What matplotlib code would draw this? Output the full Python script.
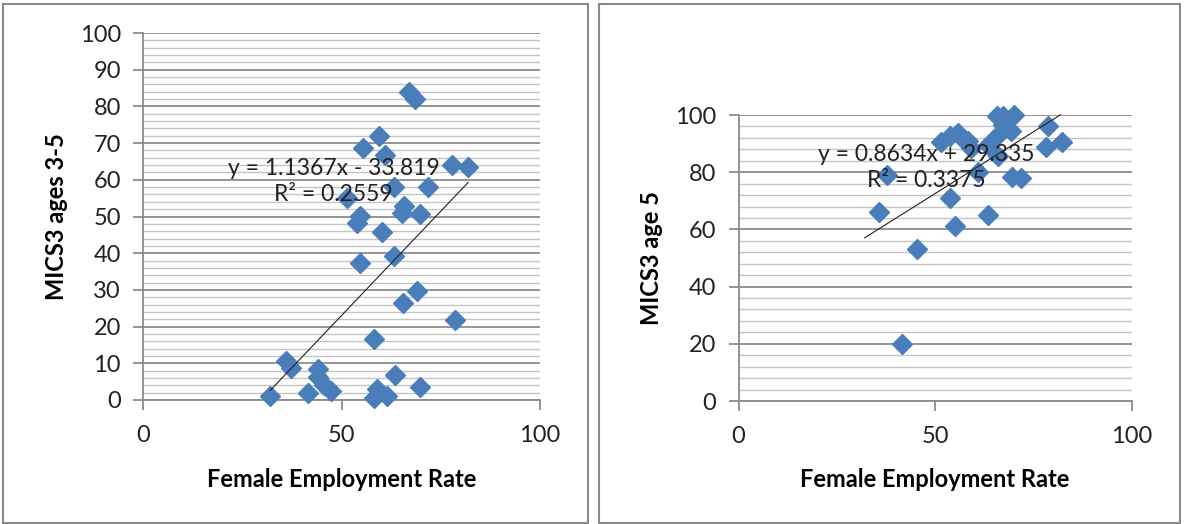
import numpy as np
import matplotlib
matplotlib.use("Agg")
import matplotlib.pyplot as plt
from matplotlib.patches import Rectangle
from matplotlib.ticker import MultipleLocator

plt.rcParams['font.family'] = ['Lato', 'DejaVu Sans']

# left panel: MICS3 ages 3-5 vs female employment rate
emp_a = [32.1, 35.9, 37.3, 41.5, 44.0, 44.1, 45.5, 47.4, 51.5, 54.7, 53.9, 54.7,
         55.4, 58.1, 58.1, 59.0, 59.5, 60.3, 60.9, 61.4, 63.2, 63.1, 63.4, 65.3,
         65.8, 65.5, 67.0, 68.5, 69.1, 69.8, 69.8, 71.7, 77.8, 78.6, 81.9]
mics_a = [1.2, 10.7, 8.7, 1.8, 8.4, 6.4, 4.1, 2.5, 55.0, 50.1, 48.1, 37.3,
          68.8, 16.6, 0.5, 2.9, 71.9, 45.8, 66.8, 1.2, 58.0, 39.2, 6.8, 51.0,
          52.8, 26.4, 84.0, 82.1, 29.6, 50.7, 3.6, 58.1, 63.9, 21.9, 63.5]
coef_a = (1.1367, -33.819)
label_a = "y = 1.1367x - 33.819\nR² = 0.2559"

# right panel: MICS3 age 5
emp_b = [35.8, 37.7, 41.5, 45.5, 51.5, 53.8, 53.8, 55.0, 55.8, 57.1, 58.5, 59.1,
         61.0, 63.4, 63.5, 65.9, 67.2, 66.1, 65.8, 67.3, 69.3, 70.2, 69.6, 71.9,
         78.2, 78.7, 82.2]
mics_b = [66.0, 79.0, 20.0, 53.0, 90.4, 92.5, 71.0, 61.3, 93.6, 91.5, 90.9, 88.6,
          80.0, 64.9, 89.5, 99.7, 99.7, 85.5, 92.5, 96.5, 94.4, 100.0, 78.2, 78.0,
          88.7, 96.2, 90.6]
coef_b = (0.8634, 29.335)
label_b = "y = 0.8634x + 29.335\nR² = 0.3375"

blue = '#4a7ebb'

fig = plt.figure(figsize=(11.84, 5.24), dpi=100)

# chart area borders
fig.patches.append(Rectangle((3 / 1184, 1 / 524), 585 / 1184, 519 / 524, transform=fig.transFigure,
                             fill=False, edgecolor='#8a8a8a', linewidth=1.5))
fig.patches.append(Rectangle((599 / 1184, 1 / 524), 581 / 1184, 519 / 524, transform=fig.transFigure,
                             fill=False, edgecolor='#8a8a8a', linewidth=1.5))


def panel(rect, x, y, coef, label, ylabel, minor_step, major_step, text_pos, xlab_y, ylab_x):
    ax = fig.add_axes(rect)
    ax.plot(x, y, linestyle='none', marker='D', markersize=10.5, color=blue,
            markeredgecolor=blue, zorder=3, clip_on=False)
    xs = np.array([min(emp_a), max(emp_a)])
    ax.plot(xs, coef[0] * xs + coef[1], color='#202020', linewidth=0.8, zorder=4, clip_on=False)
    ax.text(text_pos[0], text_pos[1], label, ha='center', va='center', fontsize=16.5,
            color='#222222', linespacing=1.3, zorder=5)
    ax.set_xlim(0, 100)
    ax.set_ylim(0, 100)
    ax.set_xticks([0, 50, 100])
    ax.yaxis.set_major_locator(MultipleLocator(major_step))
    ax.yaxis.set_minor_locator(MultipleLocator(minor_step))
    ax.grid(axis='y', which='minor', color='#c4c4c4', linewidth=1.0)
    ax.grid(axis='y', which='major', color='#8c8c8c', linewidth=1.3)
    ax.set_axisbelow(True)
    for s in ['top', 'right']:
        ax.spines[s].set_visible(False)
    for s in ['left', 'bottom']:
        ax.spines[s].set_color('#8c8c8c')
        ax.spines[s].set_linewidth(1.3)
    ax.tick_params(axis='both', which='major', length=7, width=1.3, color='#8c8c8c',
                   labelsize=17, labelcolor='#222222')
    ax.tick_params(axis='y', which='minor', length=0)
    ax.tick_params(axis='y', pad=9)
    ax.tick_params(axis='x', pad=11)
    ax.set_xlabel("Female Employment Rate", fontsize=17, fontweight='bold')
    ax.set_ylabel(ylabel, fontsize=17, fontweight='bold')
    ax.xaxis.set_label_coords(0.5, xlab_y)
    ax.yaxis.set_label_coords(ylab_x, 0.5)
    ax.patch.set_alpha(0)
    return ax


panel([143 / 1184, 1 - 400 / 524, 397 / 1184, 367 / 524], emp_a, mics_a, coef_a, label_a,
      "MICS3 ages 3-5", 2, 10, (48, 59.5), -0.185, -0.19)
panel([738.5 / 1184, 1 - 401 / 524, 393 / 1184, 286 / 524], emp_b, mics_b, coef_b, label_b,
      "MICS3 age 5", 4, 20, (47.7, 81.5), -0.235, -0.192)

fig.savefig("out.png", dpi=100, facecolor='white')
